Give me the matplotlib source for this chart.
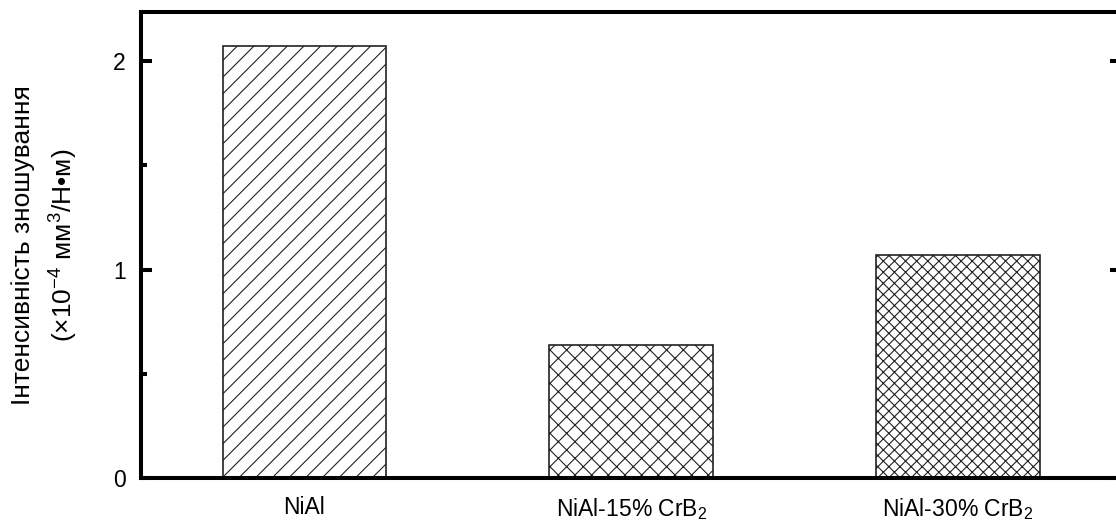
import numpy as np
import matplotlib
matplotlib.use("Agg")
import matplotlib.pyplot as plt
from matplotlib.ticker import MultipleLocator

# dados do gráfico
materiais = ["NiAl", "NiAl-15% CrB$_2$", "NiAl-30% CrB$_2$"]
intensidade = [2.07, 0.64, 1.07]
hachuras = ["//", "xx", "xxx"]

plt.rcParams["font.family"] = ["Liberation Sans", "DejaVu Sans"]
plt.rcParams["mathtext.fontset"] = "custom"
plt.rcParams["mathtext.rm"] = "Liberation Sans"
plt.rcParams["mathtext.it"] = "Liberation Sans:italic"
plt.rcParams["mathtext.default"] = "regular"
plt.rcParams["hatch.linewidth"] = 0.8
plt.rcParams["hatch.color"] = "black"

fig = plt.figure(figsize=(11.16, 5.29), dpi=100)
ax = fig.add_axes([0.1263, 0.0964, 0.8786, 0.8809])

x = np.arange(len(materiais))
for xi, val, h in zip(x, intensidade, hachuras):
    ax.bar(xi, val, width=0.5, color="white", edgecolor="#222222",
           linewidth=1.2, hatch=h)

ax.set_xlim(-0.5, 2.5)
ax.set_ylim(0, 2.235)

# eixos
for lado in ax.spines.values():
    lado.set_linewidth(2.9)

ax.set_xticks(x)
ax.set_xticklabels(materiais, fontsize=16.5)
ax.tick_params(axis="x", length=0, pad=13)

ax.yaxis.set_major_locator(MultipleLocator(1))
ax.yaxis.set_minor_locator(MultipleLocator(0.5))
ax.tick_params(axis="y", which="major", direction="in", length=8, width=2.9,
               labelsize=16.5, pad=11, right=True)
ax.tick_params(axis="y", which="minor", direction="in", length=4, width=2.9)

ax.set_ylabel("Інтенсивність зношування\n(×10$^{-4}$ мм$^3$/Н•м)",
              fontsize=19, labelpad=24, linespacing=1.5)

fig.savefig("out.png", dpi=100)
